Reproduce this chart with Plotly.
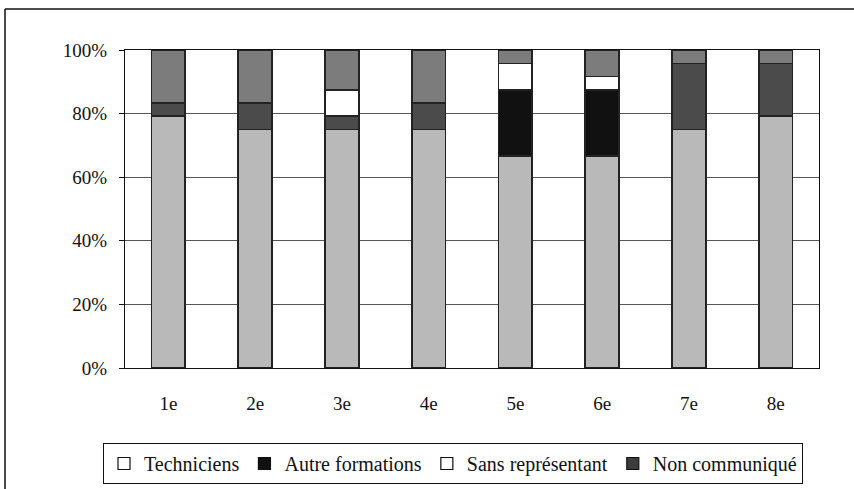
import plotly.graph_objects as go

# Share of each profile per rank (percent of respondents)
categories = ["1e", "2e", "3e", "4e", "5e", "6e", "7e", "8e"]
ingenieurs = [79.2, 75.0, 75.0, 75.0, 66.7, 66.7, 75.0, 79.2]
techniciens = [4.2, 8.3, 4.2, 8.3, 0.0, 0.0, 20.8, 16.6]
autre_formations = [0.0, 0.0, 0.0, 0.0, 20.8, 20.8, 0.0, 0.0]
sans_representant = [0.0, 0.0, 8.3, 0.0, 8.3, 4.2, 0.0, 0.0]
non_communique = [16.6, 16.7, 12.5, 16.7, 4.2, 8.3, 4.2, 4.2]

tick_vals = [0, 20, 40, 60, 80, 100]
tick_text = ["0%", "20%", "40%", "60%", "80%", "100%"]

W, H = 854, 489
ML, MR, MT, MB = 125, 35, 50, 121
PW, PH = W - ML - MR, H - MT - MB


def px_x(x):
    return (x - ML) / PW


def px_y(y):
    return (H - MB - y) / PH


FONT = "Liberation Serif"
OUTLINE = dict(color="#222222", width=1.6)

series = [
    ("Ingénieurs", ingenieurs, "#b9b9b9"),
    ("Techniciens", techniciens, "#4b4b4b"),
    ("Autre formations", autre_formations, "#111111"),
    ("Sans représentant", sans_representant, "#ffffff"),
    ("Non communiqué", non_communique, "#7c7c7c"),
]

fig = go.Figure()
for name, vals, color in series:
    fig.add_trace(go.Bar(
        x=categories, y=vals, name=name,
        marker=dict(color=color, line=OUTLINE),
        showlegend=False,
    ))

# Legend entries
legend_items = [
    ("Techniciens", "#ffffff"),
    ("Autre formations", "#111111"),
    ("Sans représentant", "#ffffff"),
    ("Non communiqué", "#3c3c3c"),
]
for name, color in legend_items:
    fig.add_trace(go.Bar(
        x=[None], y=[None], name=name,
        marker=dict(color=color, line=dict(color="#111111", width=1.2)),
        showlegend=True,
    ))

# Outer frame of the chart (top and left edges)
fig.add_shape(type="line", xref="paper", yref="paper",
              x0=px_x(5), x1=px_x(W), y0=px_y(9), y1=px_y(9),
              line=dict(color="#111111", width=1.5))
fig.add_shape(type="line", xref="paper", yref="paper",
              x0=px_x(5), x1=px_x(5), y0=px_y(9), y1=px_y(H),
              line=dict(color="#111111", width=1.5))

fig.update_layout(
    width=W, height=H,
    margin=dict(l=ML, r=MR, t=MT, b=MB, autoexpand=False),
    barmode="stack",
    bargap=0.61,
    plot_bgcolor="white",
    paper_bgcolor="white",
    font=dict(family=FONT, size=19, color="#111111"),
    legend=dict(
        orientation="h",
        x=px_x(103), xanchor="left",
        y=px_y(443), yanchor="top",
        bordercolor="#111111", borderwidth=1,
        font=dict(family=FONT, size=20, color="#111111"),
        itemwidth=30,
        traceorder="normal",
    ),
    xaxis=dict(
        showline=True, linecolor="#111111", linewidth=1.2, mirror=True,
        ticks="", tickfont=dict(family=FONT, size=19),
        ticklabelstandoff=18,
        showgrid=False,
    ),
    yaxis=dict(
        range=[0, 100],
        tickvals=tick_vals, ticktext=tick_text,
        showline=True, linecolor="#111111", linewidth=1.2, mirror=True,
        ticks="outside", ticklen=5, tickcolor="#111111",
        showgrid=True, gridcolor="#555555", gridwidth=1,
        tickfont=dict(family=FONT, size=19),
        ticklabelstandoff=8,
        zeroline=False,
    ),
)

fig.write_html("out.html")
